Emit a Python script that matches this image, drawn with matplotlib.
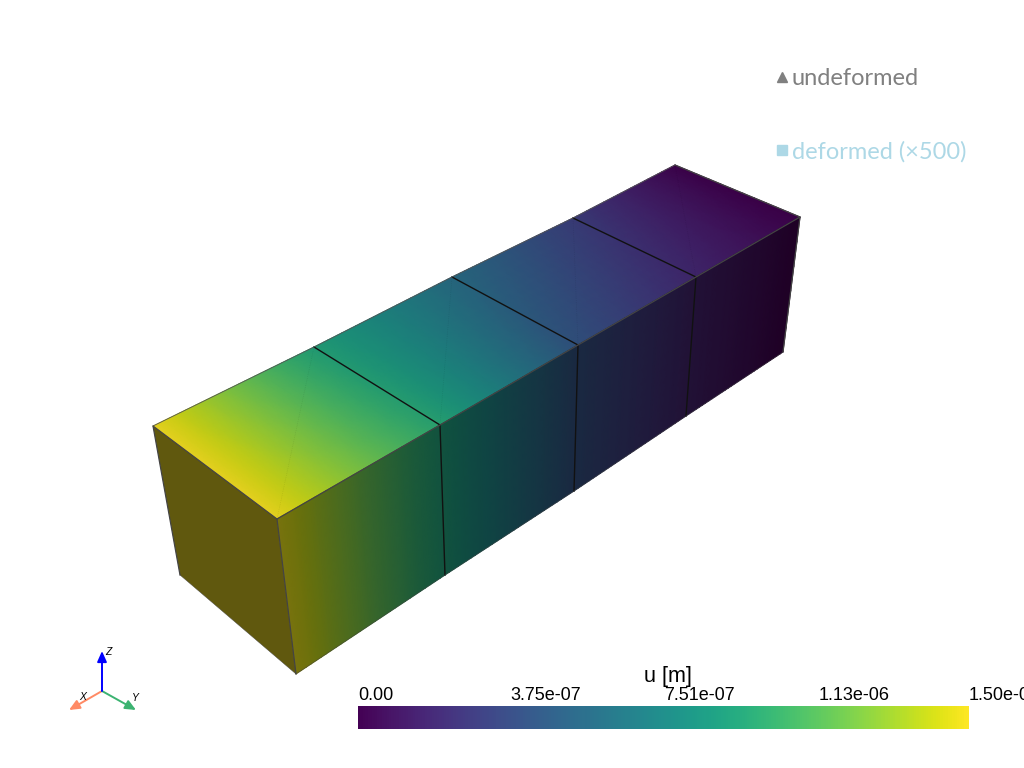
import numpy as np
import matplotlib
matplotlib.use("Agg")
import matplotlib.pyplot as plt
from matplotlib.cm import ScalarMappable
from matplotlib.colors import ListedColormap, Normalize

# Mesh nodes (image pixel coordinates), stations 0..4
far_x = [153, 314, 452, 573, 675]
far_y = [426, 347, 277, 218, 165]
near_x = [277, 440, 578, 696, 800]
near_y = [519, 425, 345, 277, 217]
low_x = [296, 445, 574, 686, 783]
low_y = [674, 575, 491, 416, 352]
hidden_x = [180]
hidden_y = [575]

# Nodal displacement in metres
U_MAX = 1.5e-6
u_far = [1.50e-6, 0.93e-6, 0.58e-6, 0.30e-6, 0.01e-6]
u_near = [1.50e-6, 0.97e-6, 0.42e-6, 0.18e-6, 0.00e-6]
u_side = [1.47e-6, 0.92e-6, 0.41e-6, 0.16e-6, 0.00e-6]
u_end = 1.50e-6

bar_ticks = [0.0, 3.75e-7, 7.51e-7, 1.13e-6, 1.50e-6]
bar_labels = ["0.00", "3.75e-07", "7.51e-07", "1.13e-06", "1.50e-06"]
bar_title = "u [m]"
legend_labels = ["undeformed", "deformed (×500)"]
legend_colors = ["#808080", "#add8e6"]

plt.rcParams["font.family"] = ["Liberation Sans", "DejaVu Sans"]
fig = plt.figure(figsize=(10.24, 7.68), dpi=100)
ax = fig.add_axes([0, 0, 1, 1])
ax.set_xlim(0, 1024)
ax.set_ylim(768, 0)
ax.axis("off")

norm = Normalize(0, U_MAX)
base = plt.get_cmap("viridis")(np.linspace(0, 1, 256))[:, :3]


def shaded(low, high):
    """Viridis under face lighting: dark colours lose a little more."""
    return ListedColormap(base * np.linspace(low, high, 256)[:, None])


def fine(values, n=30):
    """Subdivide a station array inside each element for smooth shading."""
    s = np.linspace(0, len(values) - 1, (len(values) - 1) * n + 1)
    return np.interp(s, np.arange(len(values)), values)


def patch(xa, ya, ua, xb, yb, ub, low, high):
    w = np.linspace(0, 1, 12)[:, None]
    X = fine(xa) * (1 - w) + fine(xb) * w
    Y = fine(ya) * (1 - w) + fine(yb) * w
    U = fine(ua) * (1 - w) + fine(ub) * w
    ax.pcolormesh(X, Y, U, shading="gouraud", cmap=shaded(low, high), norm=norm,
                  rasterized=False, zorder=2)


# Top and side faces
patch(far_x, far_y, u_far, near_x, near_y, u_near, 0.84, 0.90)
patch(near_x, near_y, u_side, low_x, low_y, u_side, 0.45, 0.50)

# End face
ax.fill([far_x[0], near_x[0], low_x[0], hidden_x[0]],
        [far_y[0], near_y[0], low_y[0], hidden_y[0]],
        color=shaded(0.38, 0.38)(norm(u_end)), lw=0, zorder=2)

# Faint triangle diagonals on the top face
for i in range(4):
    ax.plot([near_x[i], far_x[i + 1]], [near_y[i], far_y[i + 1]],
            color="#000000", lw=0.5, alpha=0.10, ls=":", zorder=3)

# Element boundaries
for i in range(1, 4):
    ax.plot([far_x[i], near_x[i], low_x[i]], [far_y[i], near_y[i], low_y[i]],
            color="#111111", lw=1.0, zorder=4)

# Outer edges
edge = dict(color="#444444", lw=0.9, zorder=5)
ax.plot(far_x, far_y, color="#555555", lw=0.6, zorder=5)
ax.plot(near_x, near_y, **edge)
ax.plot([far_x[-1], near_x[-1], low_x[-1]], [far_y[-1], near_y[-1], low_y[-1]], **edge)
ax.plot([low_x[0], near_x[0], far_x[0], hidden_x[0]],
        [low_y[0], near_y[0], far_y[0], hidden_y[0]], **edge)
ax.plot([hidden_x[0], low_x[0]], [hidden_y[0], low_y[0]], color="#444444", lw=0.3, zorder=5)
ax.plot(low_x, low_y, color="#444444", lw=0.3, zorder=5)

# Legend
hs = [ax.plot([], [], ls="", marker=m, color=c, ms=s)[0]
      for m, c, s in zip(["^", "s"], legend_colors, [6.5, 7.5])]
ax.legend(hs, legend_labels, loc="upper left", bbox_to_anchor=(767 / 1024, 1 - 68 / 768),
          frameon=False, prop={"family": "Lato", "size": 17},
          labelcolor=legend_colors, labelspacing=2.21, handletextpad=-0.26,
          handlelength=1.3, borderpad=0, borderaxespad=0, numpoints=1)

# Orientation widget
origin = (102, 691)
arrows = [((69, 710), "#ff8a65", "X", (83, 697)),
          ((136, 710), "#3cb371", "Y", (135, 698)),
          ((102, 651), "#0000ff", "Z", (108, 652))]
for tip, col, lab, pos in arrows:
    ax.annotate("", xy=tip, xytext=origin, zorder=6,
                arrowprops=dict(arrowstyle="-|>,head_length=0.45,head_width=0.2", color=col,
                                lw=1.4, shrinkA=0, shrinkB=0, mutation_scale=14))
    ax.text(*pos, lab, fontsize=7.5, style="italic", color="black", ha="center", va="center", zorder=7)

# Colour bar
cax = fig.add_axes([358 / 1024, 1 - 729 / 768, (969 - 358) / 1024, 23 / 768])
cb = fig.colorbar(ScalarMappable(norm=norm, cmap="viridis"), cax=cax, orientation="horizontal")
cb.outline.set_visible(False)
cb.set_ticks(bar_ticks, labels=bar_labels)
cax.xaxis.set_ticks_position("top")
cax.tick_params(axis="x", length=0, pad=1.5, labelsize=13, labelcolor="black")
for lab in cax.get_xticklabels():
    lab.set_ha("left")
    lab.set_clip_on(False)
cax.set_title(bar_title, fontsize=15.5, pad=2.5, color="black", x=0.507)

fig.savefig("out.png", dpi=100, facecolor="white")
